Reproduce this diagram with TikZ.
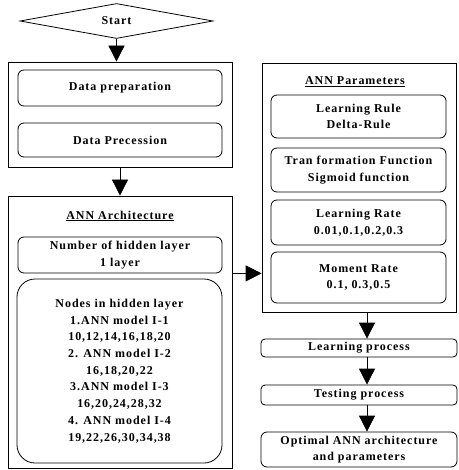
\documentclass[tikz,border=0pt]{standalone}
\usepackage{fontspec}
\setmainfont[LetterSpace=8]{Liberation Serif}
\usetikzlibrary{shapes.geometric,arrows.meta}

\begin{document}
\begin{tikzpicture}[x=1pt,y=-1pt]
    \def\lx{120}
    \def\rx{359}
    \def\ax{367}
    \tikzset{txt/.style={font=\fontsize{12}{16.7}\selectfont\bfseries, align=center, inner sep=0pt},
      frame/.style={draw, line width=0.8pt},
      box/.style={txt, draw, rounded corners=6pt, line width=0.8pt},
      arr/.style={-{Triangle[length=16pt,width=16pt]}, line width=0.8pt}}
    \useasboundingbox (0,0) rectangle (458,470);

    \node[txt, draw, diamond, aspect=5.5, minimum width=193pt, minimum height=35pt, line width=0.8pt] (start) at (116.5,21) {Start};

    % left column
    \node[frame, minimum width=224pt, minimum height=105pt] (data) at (\lx,114.5) {};
    \node[box, minimum width=204pt, minimum height=36pt] (prep) at (\lx,88) {Data preparation};
    \node[box, minimum width=204pt, minimum height=34pt] (proc) at (\lx,140) {Data Precession};

    \node[frame, minimum width=224pt, minimum height=272pt] (arch) at (\lx,332) {};
    \node[txt] (archt) at (\lx,216) {\underline{ANN Architecture}};
    \node[box, minimum width=204pt, minimum height=36pt] (hid) at (\lx,255) {Number of hidden layer\\1 layer};
    \node[box, rounded corners=18pt, minimum width=205pt, minimum height=184pt] (nodes) at (119.5,371) {Nodes in hidden layer\\1.ANN model I-1\\10,12,14,16,18,20\\2. ANN model I-2\\16,18,20,22\\3.ANN model I-3\\16,20,24,28,32\\4. ANN model I-4\\19,22,26,30,34,38};

    % right column
    \node[frame, minimum width=194pt, minimum height=249pt] (params) at (\rx,187.5) {};
    \node[txt] (paramst) at (355,82) {\underline{ANN Parameters}};
    \node[box, minimum width=175pt, minimum height=43pt] (rule) at (358.5,116.5) {Learning Rule\\Delta-Rule};
    \node[box, minimum width=175pt, minimum height=44pt] (trans) at (358.5,170) {Tran formation Function\\Sigmoid function};
    \node[box, minimum width=175pt, minimum height=45pt] (lrate) at (358.5,222.5) {Learning Rate\\0.01,0.1,0.2,0.3};
    \node[box, minimum width=175pt, minimum height=51pt] (mom) at (358.5,277.5) {Moment Rate\\0.1, 0.3,0.5};

    \node[box, rounded corners=4pt, minimum width=196pt, minimum height=18pt] (learn) at (\rx,348) {Learning process};
    \node[box, rounded corners=4pt, minimum width=196pt, minimum height=20pt] (test) at (\rx,395) {Testing process};
    \node[box, minimum width=196pt, minimum height=35pt] (opt) at (\rx,449.5) {Optimal ANN architecture\\and parameters};

    \coordinate (a) at (\ax,0);

    \draw[arr] (start.south) -- (start.south |- data.north);
    \draw[arr] (data.south) -- (arch.north);
    \draw[arr] (hid.south -| arch.east) -- (hid.south -| params.west);
    \foreach \u/\v in {params/learn, learn/test, test/opt} {
        \draw[arr] (\u.south -| a) -- (\v.north -| a);
    }

\end{tikzpicture}
\end{document}
